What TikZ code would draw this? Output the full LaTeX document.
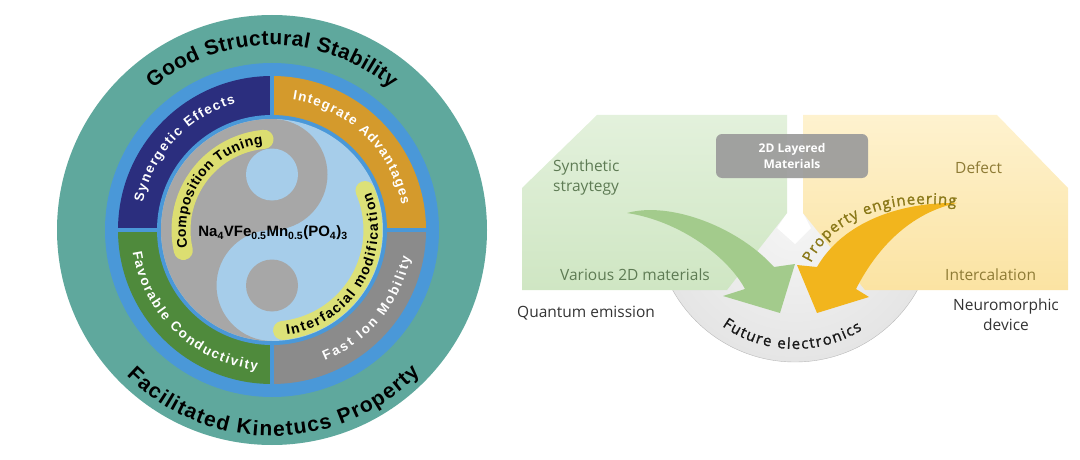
\documentclass[tikz,border=0pt]{standalone}
\usepackage{fontspec}
\setmainfont{Liberation Sans}
\newfontfamily\uifont{Open Sans}
\newfontfamily\uifontsb[FakeBold=1.3]{Open Sans}
\usetikzlibrary{decorations.text}

\definecolor{tealring}{HTML}{5FA89D}
\definecolor{bluering}{HTML}{4A98D8}
\definecolor{navyq}{HTML}{2B2E7E}
\definecolor{orangeq}{HTML}{D49A2C}
\definecolor{greenq}{HTML}{4F8A3C}
\definecolor{grayq}{HTML}{8B8B8B}
\definecolor{yinblue}{HTML}{A6CDEA}
\definecolor{yingray}{HTML}{A7A7A7}
\definecolor{glowy}{HTML}{E2E46C}
\definecolor{greenpanel}{HTML}{CFE6C3}
\definecolor{greenpaneltop}{HTML}{E3F1DC}
\definecolor{yellowpanel}{HTML}{FBE3A2}
\definecolor{yellowpaneltop}{HTML}{FEF2CF}
\definecolor{greentext}{HTML}{5E7B54}
\definecolor{yellowtext}{HTML}{8E7B35}
\definecolor{arrowgreen}{HTML}{A3CB8C}
\definecolor{arrowyellow}{HTML}{F2B51D}
\definecolor{boxgray}{HTML}{9B9B9B}
\definecolor{proptext}{HTML}{8A7818}

\pgfdeclareradialshading{diskshade}{\pgfpoint{0bp}{0bp}}{color(0bp)=(white!92!gray); color(28bp)=(gray!22); color(50bp)=(gray!50)}

\begin{document}
\begin{tikzpicture}[x=1pt,y=1pt,
    curvelabel/.style={decorate, decoration={text along path, text align={fit to path}, #1}},
    glowband/.style={glowy, line width=19, line cap=round, opacity=0.9},
    uitext/.style={inner sep=0pt, font=\uifont\fontsize{15.5}{19.5}\selectfont},
    labelbox/.style={fill=boxgray, opacity=0.92, text opacity=1, rounded corners=6, text=white, align=center,
      minimum width=152, minimum height=44, font=\uifont\bfseries\fontsize{12}{16}\selectfont}]
  \useasboundingbox (0,0) rectangle (1080,459);
  \coordinate (ctr) at (272,229);

  % rings and quadrants
  \fill[tealring] (ctr) circle[radius=215];
  \fill[bluering] (ctr) circle[radius=167];
  \fill[navyq] (ctr) -- ([shift={(180:154)}]ctr) arc[start angle=180, end angle=90, radius=154] -- cycle;
  \fill[orangeq] (ctr) -- ([shift={(90:154)}]ctr) arc[start angle=90, end angle=0, radius=154] -- cycle;
  \fill[grayq] (ctr) -- ([shift={(0:154)}]ctr) arc[start angle=0, end angle=-90, radius=154] -- cycle;
  \fill[greenq] (ctr) -- ([shift={(270:154)}]ctr) arc[start angle=270, end angle=180, radius=154] -- cycle;
  \draw[bluering, line width=4] ([shift={(-158,0)}]ctr) -- ([shift={(158,0)}]ctr);
  \draw[bluering, line width=4] ([shift={(0,-158)}]ctr) -- ([shift={(0,158)}]ctr);
  \fill[bluering] (ctr) circle[radius=115];

  % yin-yang core
  \fill[yinblue] (ctr) circle[radius=111];
  \fill[yingray] ([shift={(90:111)}]ctr) arc[start angle=90, end angle=270, radius=111]
    arc[start angle=270, end angle=90, radius=55.5] arc[start angle=270, end angle=450, radius=55.5] -- cycle;
  \fill[yinblue] ([shift={(0,55.5)}]ctr) circle[radius=26];
  \fill[yingray] ([shift={(0,-55.5)}]ctr) circle[radius=26];

  \draw[glowband] ([shift={(193:91)}]ctr) arc[start angle=193, end angle=95, radius=91];
  \draw[glowband] ([shift={(276:101)}]ctr) arc[start angle=276, end angle=383, radius=101];

  \node[inner sep=0pt, font=\bfseries\fontsize{15}{17}\selectfont] (formula) at ([shift={(1,-3)}]ctr)
    {Na\textsubscript{4}VFe\textsubscript{0.5}Mn\textsubscript{0.5}(PO\textsubscript{4})\textsubscript{3}};

  % curved labels
  \path[curvelabel={text={|\bfseries\fontsize{21}{24}\selectfont|Good Structural Stability}}]
    ([shift={(130:185)}]ctr) arc[start angle=130, end angle=50, radius=185];
  \path[curvelabel={text={|\bfseries\fontsize{21}{24}\selectfont|Facilitated Kinetucs Property}}]
    ([shift={(225:206)}]ctr) arc[start angle=225, end angle=316, radius=206];
  \path[curvelabel={text color=white, text={|\bfseries\fontsize{13.5}{15}\selectfont|Synergetic Effects}}]
    ([shift={(168:132)}]ctr) arc[start angle=168, end angle=106, radius=132];
  \path[curvelabel={text color=white, text={|\bfseries\fontsize{13.5}{15}\selectfont|Integrate Advantages}}]
    ([shift={(81:132)}]ctr) arc[start angle=81, end angle=11, radius=132];
  \path[curvelabel={text color=white, text={|\bfseries\fontsize{13.5}{15}\selectfont|Favorable Conductivity}}]
    ([shift={(189:141)}]ctr) arc[start angle=189, end angle=264, radius=141];
  \path[curvelabel={text color=white, text={|\bfseries\fontsize{13.5}{15}\selectfont|Fast Ion Mobility}}]
    ([shift={(292:141)}]ctr) arc[start angle=292, end angle=349, radius=141];
  \path[curvelabel={text={|\bfseries\fontsize{14}{16}\selectfont|Composition Tuning}}]
    ([shift={(192:86)}]ctr) arc[start angle=192, end angle=96, radius=86];
  \path[curvelabel={text={|\bfseries\fontsize{14}{16}\selectfont|Interfacial modification}}]
    ([shift={(278:106)}]ctr) arc[start angle=278, end angle=381, radius=106];

  % right panel: disk behind the two blocks
  \begin{scope}
    \clip (640,80) rectangle (960,259);
    \shade[shading=diskshade, draw=gray!55] (795,237) circle[radius=140];
  \end{scope}
  \fill[white] (787,350) -- (787,246) -- (777,231) -- (795,215) -- (811,231) -- (803,246) -- (803,350) -- cycle;
  \shade[top color=greenpaneltop, bottom color=greenpanel] (522,271) -- (597,344) -- (787,344) -- (787,246) -- (727,169) -- (522,169) -- cycle;
  \shade[top color=yellowpaneltop, bottom color=yellowpanel] (803,246) -- (803,344) -- (997,344) -- (1068,271) -- (1068,169) -- (865,169) -- cycle;

  \node[labelbox] (layered) at (792,303) {2D Layered\\Materials};

  \node[uitext, text=greentext, anchor=north west, align=left] (synth) at (553,299) {Synthetic\\straytegy};
  \node[uitext, text=greentext, anchor=base west] (various) at (560,179) {Various 2D materials};
  \node[uitext, text=black!80, anchor=base west] (quantum) at (517,142) {Quantum emission};
  \node[uitext, text=yellowtext, anchor=base west] (defect) at (955,286) {Defect};
  \node[uitext, text=yellowtext, anchor=base west] (intercal) at (945,179) {Intercalation};
  \node[uitext, text=black!80, anchor=north, align=center] (neuro) at (1006,160) {Neuromorphic\\device};

  % swoosh arrows
  \fill[arrowgreen] (627,246) .. controls (670,258) and (738,232) .. (774,192) -- (795,195) -- (780,146)
    -- (723,163) -- (745,170) .. controls (728,202) and (680,238) .. (627,246) -- cycle;
  \fill[arrowyellow] (957,256) .. controls (900,257) and (843,237) .. (817,192) -- (797,194) -- (817,146)
    -- (869,162) -- (856,170) .. controls (880,217) and (915,247) .. (957,256) -- cycle;

  \path[curvelabel={text color=proptext, text={|\uifontsb\fontsize{15}{17}\selectfont|Property engineering}}]
    (811,196) .. controls (832,240) and (890,262) .. (956,253);
  \path[curvelabel={text color=black!90, text={|\uifontsb\fontsize{15}{17}\selectfont|Future electronics}}]
    ([shift={(235:127)}]795,237) arc[start angle=235, end angle=302, radius=127];
\end{tikzpicture}
\end{document}
